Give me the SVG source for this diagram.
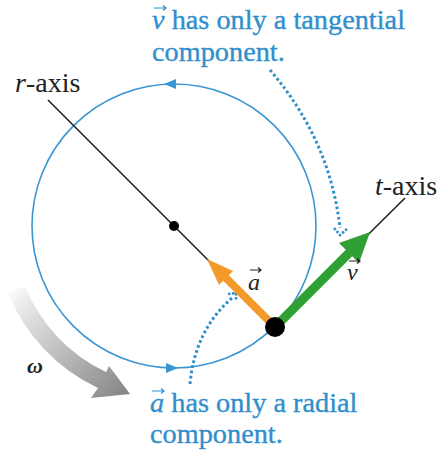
<svg xmlns="http://www.w3.org/2000/svg" width="440" height="453" viewBox="0 0 440 453">
<defs>
<style>
text{font-family:'Liberation Serif','DejaVu Serif',serif}
.lbl{font-size:28px;fill:#222}
.sm{font-size:24px;fill:#222;font-style:italic}
.om{font-size:22px;fill:#222;font-style:italic;font-weight:bold}
.note{font-size:28.3px;fill:#2f8fcc;stroke:#2f8fcc;stroke-width:0.35}
.it{font-style:italic}
.circ{fill:none;stroke:#3a95d4;stroke-width:1.6}
.dots{fill:none;stroke:#2f8fcc;stroke-width:3;stroke-dasharray:2.7 2.6}
.axis{stroke:#222;stroke-width:1.6}
.vb{fill:none;stroke:#2f8fcc;stroke-width:1.2}
.vk{fill:none;stroke:#222;stroke-width:1.2}
</style>
<linearGradient id="gw" gradientUnits="userSpaceOnUse" x1="10" y1="285" x2="125" y2="395">
<stop offset="0" stop-color="#ffffff"/>
<stop offset="0.2" stop-color="#e3e3e3"/>
<stop offset="1" stop-color="#868686"/>
</linearGradient>
</defs>
<rect width="440" height="453" fill="#fff"/>

<g id="omega-arrow">
<path d="M 8 293 A 179 179 0 0 0 98 388 L 91 398 L 130 394 L 109 366 L 106 372 A 161 161 0 0 1 25 286 Z" fill="url(#gw)"/>
<text class="om" x="27" y="373">ω</text>
</g>

<g id="circle">
<circle class="circ" cx="174" cy="226" r="142"/>
<path d="M 164 84 L 176 79 L 176 89 Z" fill="#3a95d4"/>
<path d="M 178 368 L 166 363 L 166 373 Z" fill="#3a95d4"/>
</g>

<g id="connectors">
<line class="axis" x1="48" y1="100" x2="275" y2="327"/>
<line class="axis" x1="275" y1="327" x2="405" y2="198"/>
<path class="dots" d="M 270 70 Q 330 140 340 228"/>
<path d="M 334 228 L 340 235 L 347 229" fill="none" stroke="#2f8fcc" stroke-width="2.6" stroke-dasharray="2.5 1.5"/>
<path class="dots" d="M 190 384 Q 195 330 232 298"/>
<path d="M 228 294 L 236 293 L 236 301" fill="none" stroke="#2f8fcc" stroke-width="2.6" stroke-dasharray="2.5 1.5"/>
</g>

<g id="center">
<circle cx="174" cy="226" r="5" fill="#000"/>
</g>

<g id="accel">
<line x1="275" y1="327" x2="222" y2="274" stroke="#f39a2b" stroke-width="8"/>
<path d="M 207 259 L 233 271 L 219 285 Z" fill="#f39a2b"/>
<text class="sm" x="248" y="290">a</text>
<path class="vk" d="M 250 270 H 261 M 258 267.5 L 261 270 L 258 272.5"/>
</g>

<g id="vel">
<line x1="275" y1="327" x2="352" y2="250" stroke="#2fa033" stroke-width="9"/>
<path d="M 370 232 L 359 263 L 339 243 Z" fill="#2fa033"/>
<text class="sm" x="347" y="280">v</text>
<path class="vk" d="M 349 261 H 360 M 357 258.5 L 360 261 L 357 263.5"/>
</g>

<g id="particle">
<circle cx="275" cy="327" r="10" fill="#000"/>
</g>

<g id="labels">
<text class="lbl" x="15" y="92"><tspan class="it">r</tspan>-axis</text>
<text class="lbl" x="375" y="195"><tspan class="it">t</tspan>-axis</text>
<text class="note" x="152" y="29"><tspan class="it">v</tspan> has only a tangential</text>
<path class="vb" d="M 154 8 H 166 M 163 5.5 L 166 8 L 163 10.5"/>
<text class="note" x="152" y="61">component.</text>
<text class="note" x="150" y="412"><tspan class="it">a</tspan> has only a radial</text>
<path class="vb" d="M 152 391 H 164 M 161 388.5 L 164 391 L 161 393.5"/>
<text class="note" x="150" y="443">component.</text>
</g>
</svg>
